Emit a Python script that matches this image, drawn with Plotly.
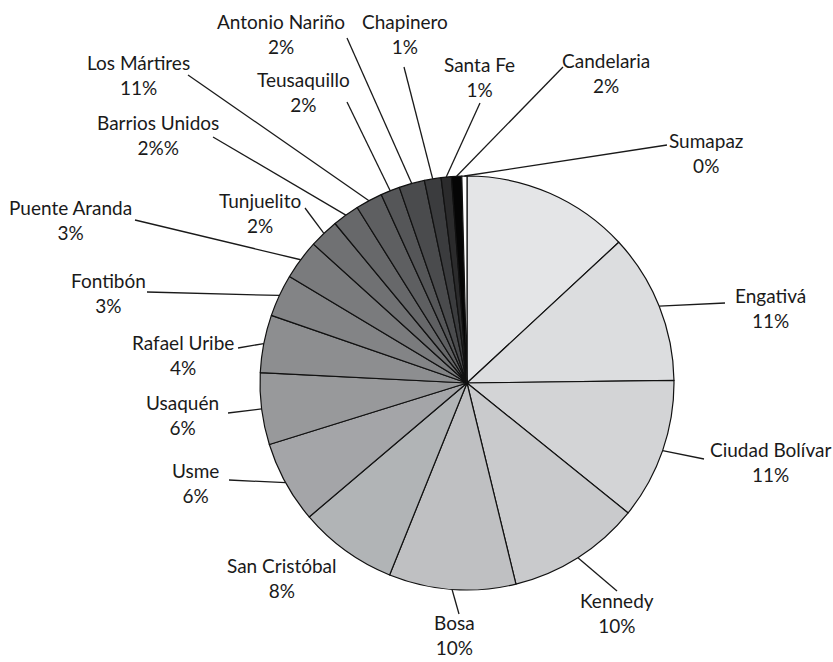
import math
import plotly.graph_objects as go

# ---- data ----
localidades = ["Suba", "Engativá", "Ciudad Bolívar", "Kennedy", "Bosa", "San Cristóbal",
               "Usme", "Usaquén", "Rafael Uribe", "Fontibón", "Puente Aranda", "Tunjuelito",
               "Barrios Unidos", "Los Mártires", "Teusaquillo", "Antonio Nariño", "Chapinero",
               "Santa Fe", "Candelaria", "Sumapaz"]
valores = [13.1, 11.7, 11.0, 10.4, 9.9, 7.7, 6.4, 5.6, 4.5, 3.3, 3.1, 2.3,
           2.1, 2.1, 1.5, 2.0, 1.3, 0.8, 0.8, 0.4]
etiquetas_pct = ["", "11%", "11%", "10%", "10%", "8%", "6%", "6%", "4%", "3%", "3%", "2%",
                 "2%%", "11%", "2%", "2%", "1%", "1%", "2%", "0%"]

# ---- styles / layout ----
colores = ["#e4e5e7", "#dcdddf", "#d3d4d6", "#c9cacc", "#bfc0c2", "#b1b4b6",
           "#a4a5a8", "#98999b", "#8d8e90", "#838486", "#7a7b7d", "#707173",
           "#67686a", "#5e5f61", "#555658", "#4a4b4d", "#3b3c3e", "#2b2b2c",
           "#050505", "#ffffff"]

W, H = 833, 662
CX, CY, R = 467, 383, 207

# label centre positions (px) and leader-line outer ends (px), None = no label/line
label_pos = [None, (770, 308), (770, 462), (617, 613), (454, 635), (282, 578),
             (195, 483), (182, 415), (183, 355), (108, 293), (70, 220), (260, 213),
             (158, 135), (138, 75), (303, 92), (281, 34), (405, 34),
             (479, 77), (606, 73), (706, 153)]
line_end = [None, (725, 303), (704, 459), (617, 591), (459, 614), None,
            (229, 480), (228, 413), (238, 348), (147, 292), (135, 220), (305, 208),
            (213, 137), (188, 75), (347, 102), (347, 38), (404, 67),
            (480, 103), (563, 67), (667, 145)]


def px_to_paper(x, y):
    return x / W, 1 - y / H


fig = go.Figure()
fig.add_trace(go.Pie(
    labels=localidades,
    values=valores,
    sort=False,
    direction="clockwise",
    rotation=0,
    textinfo="none",
    hoverinfo="label+percent",
    marker=dict(colors=colores, line=dict(color="#111111", width=1.2)),
    domain=dict(x=[(CX - R) / W, (CX + R) / W], y=[1 - (CY + R) / H, 1 - (CY - R) / H]),
    showlegend=False,
))

total = sum(valores)
acc = 0.0
shapes = []
annotations = []
for i, v in enumerate(valores):
    mid = (acc + v / 2) / total * 2 * math.pi
    acc += v
    ex = CX + R * math.sin(mid)
    ey = CY - R * math.cos(mid)
    if line_end[i] is not None:
        x0, y0 = px_to_paper(ex, ey)
        x1, y1 = px_to_paper(*line_end[i])
        shapes.append(dict(type="line", xref="paper", yref="paper",
                           x0=x0, y0=y0, x1=x1, y1=y1,
                           line=dict(color="#1a1a1a", width=1.3)))
    if label_pos[i] is not None:
        lx, ly = px_to_paper(*label_pos[i])
        annotations.append(dict(
            x=lx, y=ly, xref="paper", yref="paper",
            text=f"{localidades[i]}<br>{etiquetas_pct[i]}",
            showarrow=False, xanchor="center", yanchor="middle",
            align="center",
            font=dict(family="Lato", size=19, color="#1a1a1a"),
        ))

fig.update_layout(
    width=W, height=H,
    margin=dict(l=0, r=0, t=0, b=0),
    paper_bgcolor="white",
    plot_bgcolor="white",
    shapes=shapes,
    annotations=annotations,
)

fig.write_html("out.html", config={"displayModeBar": False},
               post_script="document.body.style.margin='0px';")
